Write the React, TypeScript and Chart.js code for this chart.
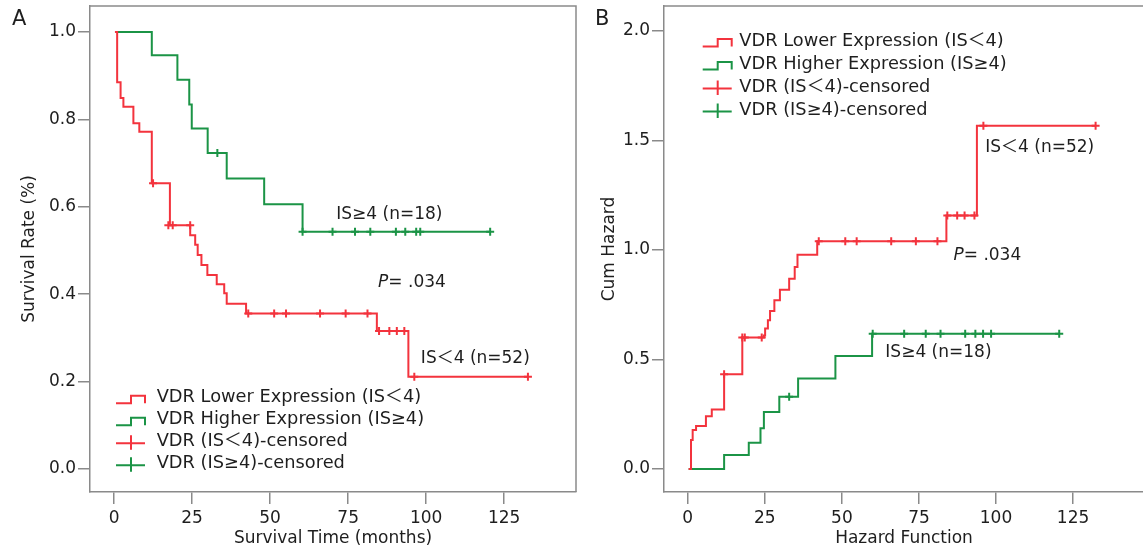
import React, { useEffect, useRef } from 'react';
import { Chart, registerables } from 'chart.js';

Chart.register(...registerables);

const RED = '#F3333D';
const GREEN = '#1B9446';
const AXIS = '#8a8a8a';
const TEXT = '#1e1e1e';
const FONT = "'DejaVu Sans', 'Noto Sans CJK SC', sans-serif";
const FS = 17;
const LEGEND_FS = 17.8;

// ---------- shared ----------
const xTickValues = [0, 25, 50, 75, 100, 125];
const legendLabels = [
  'VDR Lower Expression (IS＜4)',
  'VDR Higher Expression (IS≥4)',
  'VDR (IS＜4)-censored',
  'VDR (IS≥4)-censored',
];

// ---------- Panel A: survival ----------
const survTicksY = [0, 0.2, 0.4, 0.6, 0.8, 1.0];
const lowTimesA = [0.3, 1.0, 2.1, 3.0, 6.2, 8.1, 12.1, 17.9, 24.4, 26.0, 26.8, 28.0, 29.9, 32.9, 35.3, 36.1, 42.3, 84.2, 94.3, 132.6];
const lowSurvA = [1.0, 0.885, 0.849, 0.829, 0.791, 0.772, 0.654, 0.558, 0.535, 0.513, 0.49, 0.467, 0.444, 0.423, 0.402, 0.378, 0.356, 0.316, 0.211, 0.211];
const highTimesA = [0.3, 12.1, 20.3, 24.1, 24.9, 30.0, 36.1, 48.1, 60.4, 120.5];
const highSurvA = [1.0, 0.947, 0.891, 0.834, 0.779, 0.723, 0.665, 0.606, 0.543, 0.543];
const lowCensTimesA = [12.5, 17.4, 18.8, 24.4, 43.0, 51.3, 55.1, 66.0, 74.2, 81.2, 84.9, 88.2, 90.6, 93.0, 96.2, 132.6];
const lowCensSurvA = [0.654, 0.558, 0.558, 0.558, 0.356, 0.356, 0.356, 0.356, 0.356, 0.356, 0.316, 0.316, 0.316, 0.316, 0.211, 0.211];
const highCensTimesA = [33.1, 60.4, 70.0, 77.2, 82.1, 90.3, 93.3, 96.8, 98.1, 120.5];
const highCensSurvA = [0.723, 0.543, 0.543, 0.543, 0.543, 0.543, 0.543, 0.543, 0.543, 0.543];

// ---------- Panel B: cumulative hazard ----------
const hazTicksY = [0, 0.5, 1.0, 1.5, 2.0];
const lowTimesB = [0.3, 1.06, 1.6, 2.7, 5.9, 7.8, 11.8, 17.7, 24.7, 25.1, 26.0, 26.7, 28.1, 29.9, 32.9, 34.7, 35.6, 42.0, 83.9, 93.8, 132.3];
const lowHazB = [0, 0.132, 0.178, 0.196, 0.241, 0.272, 0.433, 0.6, 0.61, 0.641, 0.679, 0.721, 0.77, 0.819, 0.869, 0.922, 0.978, 1.04, 1.157, 1.567, 1.567];
const highTimesB = [0.3, 11.8, 19.8, 23.6, 24.7, 29.7, 35.8, 47.9, 59.8, 120.5];
const highHazB = [0, 0.064, 0.12, 0.186, 0.26, 0.33, 0.413, 0.516, 0.618, 0.618];
const lowCensTimesB = [11.8, 17.7, 18.5, 24.0, 42.5, 51.1, 54.8, 66.0, 74.0, 81.0, 84.2, 87.4, 89.8, 93.0, 95.9, 132.3];
const lowCensHazB = [0.433, 0.6, 0.6, 0.6, 1.04, 1.04, 1.04, 1.04, 1.04, 1.04, 1.157, 1.157, 1.157, 1.157, 1.567, 1.567];
const highCensTimesB = [32.9, 60.0, 70.2, 77.2, 82.0, 90.0, 93.3, 95.8, 98.4, 120.5];
const highCensHazB = [0.33, 0.618, 0.618, 0.618, 0.618, 0.618, 0.618, 0.618, 0.618, 0.618];

const zip = (xs: number[], ys: number[]) => xs.map((x, i) => ({ x, y: ys[i] }));

type Note = { t: number; v: number; text: string; italicP?: boolean };

type PanelSpec = {
  letter: string;
  letterX: number;
  xTitle: string;
  yTitle: string;
  yTicks: number[];
  yMin: number;
  yMax: number;
  padding: { left: number; right: number; top: number; bottom: number };
  yWidth: number;
  low: { x: number; y: number }[];
  high: { x: number; y: number }[];
  lowCens: { x: number; y: number }[];
  highCens: { x: number; y: number }[];
  notes: Note[];
  legend: { iconDX: number; textDX: number; rows: number[]; fromBottom: boolean };
};

function drawLegend(ctx: CanvasRenderingContext2D, area: any, spec: PanelSpec) {
  const x0 = area.left + spec.legend.iconDX;
  const tx = area.left + spec.legend.textDX;
  ctx.save();
  ctx.font = `${LEGEND_FS}px ${FONT}`;
  ctx.textBaseline = 'middle';
  ctx.textAlign = 'left';
  legendLabels.forEach((label, i) => {
    const c = spec.legend.fromBottom ? area.bottom + spec.legend.rows[i] : area.top + spec.legend.rows[i];
    ctx.strokeStyle = i % 2 === 0 ? RED : GREEN;
    ctx.lineWidth = 2;
    ctx.beginPath();
    if (i < 2) {
      ctx.moveTo(x0, c + 5.5);
      ctx.lineTo(x0 + 15, c + 5.5);
      ctx.lineTo(x0 + 15, c - 2);
      ctx.lineTo(x0 + 29, c - 2);
      ctx.lineTo(x0 + 29, c + 5.5);
    } else {
      ctx.moveTo(x0, c + 1.5);
      ctx.lineTo(x0 + 29, c + 1.5);
      ctx.moveTo(x0 + 15, c - 6.5);
      ctx.lineTo(x0 + 15, c + 8);
    }
    ctx.stroke();
    ctx.fillStyle = TEXT;
    ctx.fillText(label, tx, c);
  });
  ctx.restore();
}

function makeChart(canvas: HTMLCanvasElement, spec: PanelSpec) {
  const font = { family: FONT, size: FS };
  const overlay = {
    id: 'overlay' + spec.letter,
    afterDraw(chart: any) {
      const { ctx, chartArea: a, scales } = chart;
      ctx.save();
      // top & right frame
      ctx.strokeStyle = AXIS;
      ctx.lineWidth = 1.5;
      ctx.beginPath();
      ctx.moveTo(a.left, a.top);
      ctx.lineTo(a.right, a.top);
      ctx.lineTo(a.right, a.bottom);
      ctx.stroke();
      // panel letter
      ctx.fillStyle = TEXT;
      ctx.font = `21px ${FONT}`;
      ctx.textBaseline = 'alphabetic';
      ctx.textAlign = 'left';
      ctx.fillText(spec.letter, spec.letterX, 25);
      // notes
      ctx.textBaseline = 'middle';
      spec.notes.forEach((n) => {
        const px = scales.x.getPixelForValue(n.t);
        const py = scales.y.getPixelForValue(n.v);
        if (n.italicP) {
          ctx.font = `italic ${FS}px ${FONT}`;
          ctx.fillText('P', px, py);
          const w = ctx.measureText('P').width;
          ctx.font = `${FS}px ${FONT}`;
          ctx.fillText(n.text, px + w, py);
        } else {
          ctx.font = `${FS}px ${FONT}`;
          ctx.fillText(n.text, px, py);
        }
      });
      ctx.restore();
      drawLegend(ctx, a, spec);
    },
  };

  const lineDs = (data: any[], color: string) => ({
    data,
    borderColor: color,
    backgroundColor: color,
    borderWidth: 2,
    stepped: 'before' as const,
    pointRadius: 0,
    pointHoverRadius: 0,
    fill: false,
  });
  const censDs = (data: any[], color: string) => ({
    data,
    showLine: false,
    borderColor: color,
    backgroundColor: color,
    pointStyle: 'cross' as const,
    pointRadius: 4,
    pointHoverRadius: 4,
    pointBorderWidth: 2,
    pointBorderColor: color,
  });

  return new Chart(canvas, {
    type: 'line',
    data: {
      datasets: [
        lineDs(spec.low, RED),
        lineDs(spec.high, GREEN),
        censDs(spec.lowCens, RED),
        censDs(spec.highCens, GREEN),
      ] as any,
    },
    options: {
      responsive: false,
      animation: false,
      devicePixelRatio: 1,
      events: [],
      layout: { padding: spec.padding },
      plugins: { legend: { display: false }, tooltip: { enabled: false } },
      scales: {
        x: {
          type: 'linear',
          min: -7.7,
          max: 148,
          afterBuildTicks: (s: any) => {
            s.ticks = xTickValues.map((v) => ({ value: v }));
          },
          afterFit: (s: any) => {
            s.height = 552 - spec.padding.bottom - 492;
            s.paddingLeft = 0;
            s.paddingRight = 0;
          },
          grid: { display: true, drawOnChartArea: false, drawTicks: true, tickLength: 12, color: AXIS, lineWidth: 1.5 },
          border: { display: true, color: AXIS, width: 1.5 },
          ticks: { font, color: TEXT, padding: 4, maxRotation: 0, autoSkip: false, callback: (v: any) => String(v) },
          title: { display: true, text: spec.xTitle, font, color: TEXT, padding: { top: 4, bottom: 2 } },
        },
        y: {
          type: 'linear',
          min: spec.yMin,
          max: spec.yMax,
          afterBuildTicks: (s: any) => {
            s.ticks = spec.yTicks.map((v) => ({ value: v }));
          },
          afterFit: (s: any) => {
            s.width = spec.yWidth;
            s.paddingTop = 0;
            s.paddingBottom = 0;
          },
          grid: { display: true, drawOnChartArea: false, drawTicks: true, tickLength: 12, color: AXIS, lineWidth: 1.5 },
          border: { display: true, color: AXIS, width: 1.5 },
          ticks: { font, color: TEXT, padding: 2, autoSkip: false, callback: (v: any) => Number(v).toFixed(1) },
          title: { display: true, text: spec.yTitle, font, color: TEXT, padding: { top: 4, bottom: 4 } },
        },
      },
    },
    plugins: [overlay],
  } as any);
}

const specA: PanelSpec = {
  letter: 'A',
  letterX: 12,
  xTitle: 'Survival Time (months)',
  yTitle: 'Survival Rate (%)',
  yTicks: survTicksY,
  yMin: -0.0526,
  yMax: 1.0595,
  padding: { left: 15, right: 24, top: 6, bottom: 1 },
  yWidth: 75,
  low: zip(lowTimesA, lowSurvA),
  high: zip(highTimesA, highSurvA),
  lowCens: zip(lowCensTimesA, lowCensSurvA),
  highCens: zip(highCensTimesA, highCensSurvA),
  notes: [
    { t: 71.2, v: 0.582, text: 'IS≥4 (n=18)' },
    { t: 84.6, v: 0.427, text: '= .034', italicP: true },
    { t: 98.3, v: 0.252, text: 'IS＜4 (n=52)' },
  ],
  legend: { iconDX: 26, textDX: 66.7, rows: [-94.3, -72.3, -50.3, -28.3], fromBottom: true },
};

const specB: PanelSpec = {
  letter: 'B',
  letterX: 17,
  xTitle: 'Hazard Function',
  yTitle: 'Cum Hazard',
  yTicks: hazTicksY,
  yMin: -0.105,
  yMax: 2.114,
  padding: { left: 17, right: 0, top: 5, bottom: 1 },
  yWidth: 69,
  low: zip(lowTimesB, lowHazB),
  high: zip(highTimesB, highHazB),
  lowCens: zip(lowCensTimesB, lowCensHazB),
  highCens: zip(highCensTimesB, highCensHazB),
  notes: [
    { t: 96.5, v: 1.467, text: 'IS＜4 (n=52)' },
    { t: 86.2, v: 0.975, text: '= .034', italicP: true },
    { t: 64.1, v: 0.533, text: 'IS≥4 (n=18)' },
  ],
  legend: { iconDX: 38.7, textDX: 75.3, rows: [35, 58, 81, 104], fromBottom: false },
};

export default function App() {
  const refA = useRef<HTMLCanvasElement>(null);
  const refB = useRef<HTMLCanvasElement>(null);
  useEffect(() => {
    const a = makeChart(refA.current!, specA);
    const b = makeChart(refB.current!, specB);
    return () => {
      a.destroy();
      b.destroy();
    };
  }, []);
  return (
    <div style={{ position: 'fixed', left: 0, top: 0, width: 1143, height: 552, overflow: 'hidden', background: '#fff' }}>
      <canvas ref={refA} width={600} height={552} style={{ position: 'absolute', left: 0, top: 0, width: 600, height: 552 }} />
      <canvas ref={refB} width={572} height={552} style={{ position: 'absolute', left: 578, top: 0, width: 572, height: 552 }} />
    </div>
  );
}
